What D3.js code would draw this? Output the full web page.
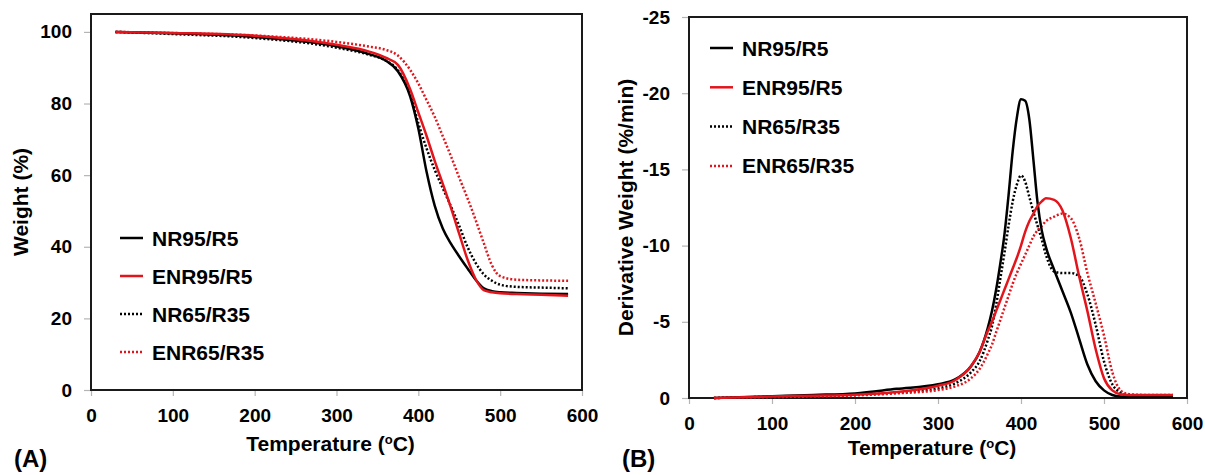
<!DOCTYPE html>
<html>
<head>
<meta charset="utf-8">
<script src="https://cdn.jsdelivr.net/npm/d3@7"></script>
<style>
  body { margin: 0; background: #fff; }
  svg { display: block; font-family: "Liberation Sans", Arial, sans-serif; font-weight: bold; }
</style>
</head>
<body>
<svg id="chart" width="1205" height="475"></svg>
<script>
// series names, in legend order
const seriesNames = ['NR95/R5', 'ENR95/R5', 'NR65/R35', 'ENR65/R35'];

// (A) TGA - weight (%) vs temperature
const tgaTemp = [30, 100, 200, 300, 340, 360, 375, 390, 400, 410, 420, 430, 440, 450, 460, 470, 480, 490, 500, 520, 550, 583];
const tgaNR95 = [100, 99.6, 98.6, 96.0, 93.8, 92.0, 89.0, 82.0, 73.0, 61.0, 51.5, 45.0, 40.8, 37.3, 34.0, 30.8, 28.4, 27.6, 27.3, 27.1, 26.9, 26.8];
const tgaENR95 = [100, 99.7, 98.9, 96.4, 94.5, 92.8, 90.8, 84.0, 77.5, 71.0, 64.0, 57.5, 50.8, 43.6, 36.5, 31.0, 27.9, 27.3, 27.0, 26.8, 26.6, 26.3];
const tgaNR65 = [100, 99.4, 98.3, 95.6, 93.6, 92.0, 89.3, 82.5, 74.5, 67.5, 61.5, 56.3, 51.2, 45.8, 40.0, 35.5, 32.3, 30.5, 29.4, 28.8, 28.6, 28.4];
const tgaENR65 = [100, 99.7, 99.0, 97.2, 95.9, 95.0, 93.4, 89.4, 85.6, 81.0, 76.3, 70.8, 65.2, 59.3, 53.6, 47.5, 41.0, 34.8, 31.8, 30.8, 30.6, 30.5];

// (B) DTG - derivative weight (%/min) vs temperature
const dtgTemp = [30, 100, 150, 200, 250, 300, 320, 340, 350, 360, 365, 370, 375, 380, 385, 390, 395, 400, 405, 410, 415, 420, 425, 430, 440, 450, 460, 470, 480, 490, 500, 510, 520, 530, 550, 583];
const dtgNR95 = [0, -0.12, -0.2, -0.3, -0.6, -0.9, -1.2, -2.1, -3.0, -4.6, -5.7, -7.1, -8.8, -10.7, -13.3, -16.2, -18.4, -19.6, -19.5, -18.3, -15.6, -12.8, -11.0, -9.9, -8.4, -7.0, -5.6, -3.9, -2.2, -1.1, -0.5, -0.2, -0.1, -0.08, -0.08, -0.08];
const dtgENR95 = [0, -0.1, -0.15, -0.22, -0.4, -0.8, -1.15, -2.1, -3.0, -4.4, -5.0, -5.7, -6.4, -7.1, -7.8, -8.5, -9.2, -10.0, -10.9, -11.6, -12.1, -12.6, -12.9, -13.1, -13.0, -12.3, -10.5, -8.0, -5.7, -3.2, -1.3, -0.5, -0.25, -0.2, -0.2, -0.2];
const dtgNR65 = [0, -0.08, -0.12, -0.2, -0.35, -0.63, -0.95, -1.7, -2.4, -3.8, -4.7, -6.1, -7.8, -9.5, -11.3, -12.9, -14.0, -14.6, -14.2, -13.2, -12.2, -11.3, -10.4, -9.4, -8.3, -8.2, -8.2, -8.0, -6.8, -4.8, -2.4, -0.9, -0.35, -0.15, -0.1, -0.1];
const dtgENR65 = [0, -0.06, -0.1, -0.17, -0.3, -0.52, -0.75, -1.3, -1.9, -2.9, -3.5, -4.3, -5.1, -5.9, -6.7, -7.5, -8.2, -8.8, -9.4, -10.0, -10.6, -11.0, -11.3, -11.6, -11.9, -12.1, -11.8, -10.5, -8.2, -6.2, -4.1, -1.7, -0.5, -0.25, -0.2, -0.2];

// tick labels
const xTicks = [0, 100, 200, 300, 400, 500, 600];
const tgaTicks = [0, 20, 40, 60, 80, 100];
const dtgTicks = [0, -5, -10, -15, -20, -25];

const red = '#e3151c';
const styles = {
    'NR95/R5':   { color: '#000', dash: null },
    'ENR95/R5':  { color: red,    dash: null },
    'NR65/R35':  { color: '#000', dash: '2,2' },
    'ENR65/R35': { color: red,    dash: '2,2' }
};
const drawOrder = ['NR65/R35', 'ENR65/R35', 'NR95/R5', 'ENR95/R5'];

const svg = d3.select('#chart');
svg.append('rect').attr('width', 1205).attr('height', 475).attr('fill', '#fff');

function panel(opt) {
    const x = d3.scaleLinear().domain([0, 600]).range([opt.left, opt.right]);
    const y = d3.scaleLinear().domain(opt.yDomain).range([opt.bottom, opt.top]);
    const g = svg.append('g');

    // axes
    const xAxis = g.append('g')
        .attr('transform', `translate(0,${opt.bottom})`)
        .call(d3.axisBottom(x).tickValues(xTicks).tickSize(6).tickPadding(13).tickFormat(d => String(d)));
    const yAxis = g.append('g')
        .attr('transform', `translate(${opt.left},0)`)
        .call(d3.axisLeft(y).tickValues(opt.yTicks).tickSize(7).tickPadding(12).tickFormat(d => String(d)));
    [xAxis, yAxis].forEach(a => {
        a.select('.domain').remove();
        a.selectAll('line').attr('stroke', '#b5b5b5').attr('stroke-width', 1.2);
        a.selectAll('text').attr('fill', '#000').style('font-size', '19px')
            .style('font-family', '"Liberation Sans", Arial, sans-serif').style('font-weight', 'bold');
    });

    // frame
    g.append('rect')
        .attr('x', opt.left).attr('y', opt.top)
        .attr('width', opt.right - opt.left).attr('height', opt.bottom - opt.top)
        .attr('fill', 'none').attr('stroke', '#1a1a1a').attr('stroke-width', 2);

    // curves
    const line = d3.line().x(d => x(d[0])).y(d => y(d[1])).curve(d3.curveMonotoneX);
    drawOrder.forEach(name => {
        const pts = opt.temp.map((t, i) => [t, opt.values[name][i]]);
        g.append('path')
            .datum(pts)
            .attr('d', line)
            .attr('fill', 'none')
            .attr('stroke', styles[name].color)
            .attr('stroke-width', 2.5)
            .attr('stroke-dasharray', styles[name].dash);
    });

    // legend
    const legend = g.selectAll('.legend')
        .data(seriesNames)
        .enter().append('g')
        .attr('class', 'legend')
        .attr('transform', (d, i) => `translate(${opt.legX},${opt.legY + i * opt.legStep})`);
    legend.append('line')
        .attr('x1', 0).attr('x2', 23).attr('y1', 0).attr('y2', 0)
        .attr('stroke', d => styles[d].color)
        .attr('stroke-width', 2.5)
        .attr('stroke-dasharray', d => styles[d].dash);
    legend.append('text')
        .attr('x', 32).attr('y', 0).attr('dy', '0.36em')
        .style('font-size', '21px')
        .text(d => d);

    // axis titles
    const xt = g.append('text')
        .attr('x', (opt.left + opt.right) / 2 - 6).attr('y', opt.xTitleY)
        .attr('text-anchor', 'middle').style('font-size', '21px');
    xt.append('tspan').text('Temperature (');
    xt.append('tspan').attr('baseline-shift', 'super').style('font-size', '13px').text('o');
    xt.append('tspan').text('C)');

    g.append('text')
        .attr('transform', `translate(${opt.yTitleX},${(opt.top + opt.bottom) / 2}) rotate(-90)`)
        .attr('text-anchor', 'middle').style('font-size', '21px')
        .text(opt.yTitle);

    g.append('text')
        .attr('x', opt.tagX).attr('y', 467)
        .style('font-size', '24px')
        .text(opt.tag);
}

panel({
    left: 91, right: 582, top: 14, bottom: 390,
    yDomain: [0, 105], yTicks: tgaTicks,
    temp: tgaTemp,
    values: { 'NR95/R5': tgaNR95, 'ENR95/R5': tgaENR95, 'NR65/R35': tgaNR65, 'ENR65/R35': tgaENR65 },
    legX: 120, legY: 238, legStep: 38,
    yTitle: 'Weight (%)', yTitleX: 28, xTitleY: 451,
    tag: '(A)', tagX: 14
});

panel({
    left: 689, right: 1187, top: 17, bottom: 398,
    yDomain: [0, -25], yTicks: dtgTicks,
    temp: dtgTemp,
    values: { 'NR95/R5': dtgNR95, 'ENR95/R5': dtgENR95, 'NR65/R35': dtgNR65, 'ENR65/R35': dtgENR65 },
    legX: 710, legY: 48, legStep: 39.3,
    yTitle: 'Derivative Weight (%/min)', yTitleX: 633, xTitleY: 455,
    tag: '(B)', tagX: 622
});
</script>
</body>
</html>
